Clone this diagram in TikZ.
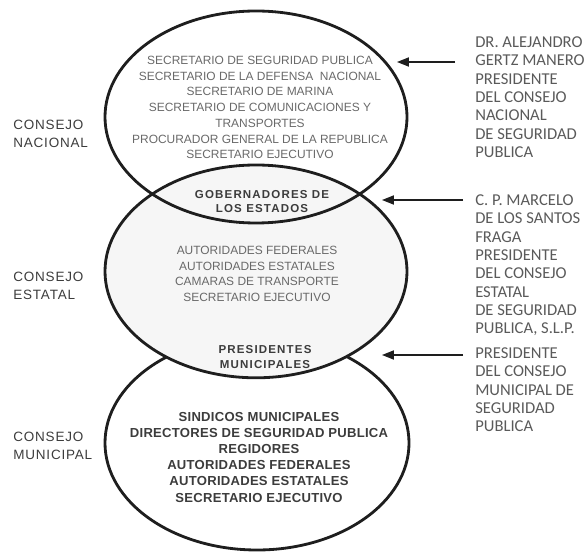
\documentclass[tikz,border=0pt]{standalone}
\usepackage{fontspec}
\setmainfont{Liberation Sans}
\newfontfamily\namefont{Carlito}
\usetikzlibrary{arrows.meta}
\usepackage{tkz-euclide}
\definecolor{RingClr}{RGB}{30,30,30}
\definecolor{EstatalClr}{RGB}{246,246,246}
\definecolor{MemberClr}{RGB}{105,105,105}
\definecolor{LabelClr}{RGB}{60,60,60}
\definecolor{NameClr}{RGB}{90,90,90}

\tikzset{
  council/.style={line width=2pt,color=RingClr},
  pointer/.style={line width=1pt,color=RingClr,-{Triangle[length=8.5pt,width=6.5pt]}},
  members/.style={inner sep=0pt,anchor=north,align=center,text=MemberClr,
    font=\fontsize{8.5}{11.2}\selectfont},
  shared/.style={inner sep=0pt,anchor=north,align=center,text=LabelClr,
    font=\fontsize{8.2}{10.5}\selectfont\bfseries\addfontfeature{LetterSpace=10}},
  municipal/.style={inner sep=0pt,anchor=north,align=center,text=LabelClr,
    font=\fontsize{9.3}{11.45}\selectfont\bfseries\addfontfeature{LetterSpace=2}},
  side/.style={inner sep=0pt,anchor=north west,align=left,text=LabelClr,
    font=\fontsize{9.6}{12.8}\selectfont\addfontfeature{LetterSpace=6}},
  chair/.style={inner sep=0pt,anchor=north west,align=left,text=NameClr,
    font=\namefont\fontsize{11.8}{13}\selectfont}
}

\begin{document}
\begin{tikzpicture}
\useasboundingbox (0,0) rectangle (14.7,13.825);

\tkzDefPoints{6.4/10.9/Nac,6.4/7.04/Est,6.425/2.75/Mun}
\tkzDefPoints{11.375/12.275/PA,9.925/12.275/QA,11.575/8.825/PB,9.55/8.825/QB,11.575/4.95/PC,9.55/4.95/QC}

% the three councils, state one filled over the municipal one
\draw[council] (Mun) ellipse [x radius=3.8,y radius=2.675];
\draw[council,fill=EstatalClr] (Est) ellipse [x radius=3.775,y radius=2.66];
\draw[council] (Nac) ellipse [x radius=3.775,y radius=2.65];

\node[members] (nacional) at (6.5,12.43) {SECRETARIO DE SEGURIDAD PUBLICA\\
  SECRETARIO DE LA DEFENSA~ NACIONAL\\ SECRETARIO DE MARINA\\
  SECRETARIO DE COMUNICACIONES Y\\ TRANSPORTES\\
  PROCURADOR GENERAL DE LA REPUBLICA\\ SECRETARIO EJECUTIVO};
\node[shared] (gobernadores) at (6.55,9.08) {GOBERNADORES DE\\ LOS ESTADOS};
\node[members] (estatal) at (6.425,7.68) {AUTORIDADES FEDERALES\\
  AUTORIDADES ESTATALES\\ CAMARAS DE TRANSPORTE\\ SECRETARIO EJECUTIVO};
\node[shared] (presidentes) at (6.625,5.2) {PRESIDENTES\\ MUNICIPALES};
\node[municipal] (municipal) at (6.475,3.52) {SINDICOS MUNICIPALES\\
  DIRECTORES DE SEGURIDAD PUBLICA\\ REGIDORES\\ AUTORIDADES FEDERALES\\
  AUTORIDADES ESTATALES\\ SECRETARIO EJECUTIVO};

\node[side] (sideNac) at (0.325,10.82) {CONSEJO\\ NACIONAL};
\node[side] (sideEst) at (0.325,7.02) {CONSEJO\\ ESTATAL};
\node[side] (sideMun) at (0.325,3.02) {CONSEJO\\ MUNICIPAL};

\node[chair] (chairNac) at (11.875,12.91) {DR. ALEJANDRO\\ GERTZ MANERO\\
  PRESIDENTE\\ DEL CONSEJO\\ NACIONAL\\ DE SEGURIDAD\\ PUBLICA};
\node[chair] (chairEst) at (11.875,8.96) {C. P. MARCELO\\ DE LOS SANTOS\\
  FRAGA\\ PRESIDENTE\\ DEL CONSEJO\\ ESTATAL\\ DE SEGURIDAD\\ PUBLICA, S.L.P.};
\node[chair] (chairMun) at (11.875,5.135) {PRESIDENTE\\ DEL CONSEJO\\
  MUNICIPAL DE\\ SEGURIDAD\\ PUBLICA};

\draw[pointer] (PA) -- (QA);
\draw[pointer] (PB) -- (QB);
\draw[pointer] (PC) -- (QC);

\end{tikzpicture}
\end{document}
